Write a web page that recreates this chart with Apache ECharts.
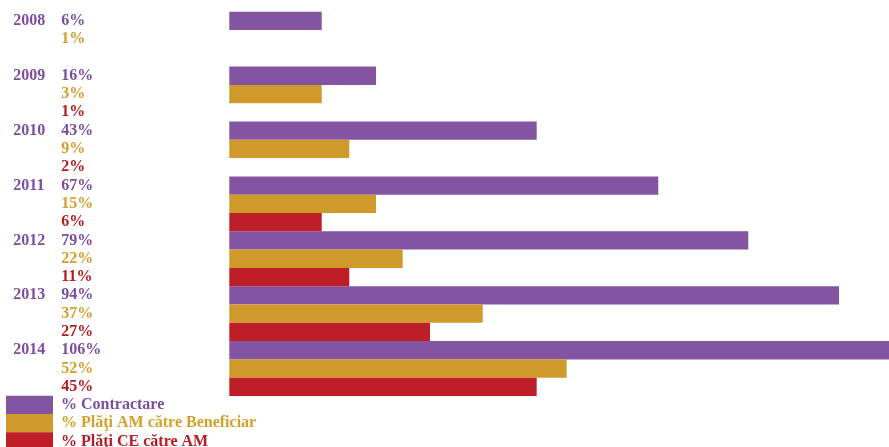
<!DOCTYPE html>
<html><head><meta charset="utf-8">
<script src="https://cdn.jsdelivr.net/npm/echarts@6/dist/echarts.min.js"></script>
<style>html,body{margin:0;padding:0;background:#fff}#c{width:889px;height:447px}</style>
</head><body><div id="c"></div>
<script>
// Data
const years = ['2008', '2009', '2010', '2011', '2012', '2013', '2014'];
const seriesNames = ['% Contractare', '% Plăţi AM către Beneficiar', '% Plăţi CE către AM'];
// Printed percentages (labels)
const contractarePct = [6, 16, 43, 67, 79, 94, 106];
const platiAMPct = [1, 3, 9, 15, 22, 37, 52];
const platiCEPct = [null, 1, 2, 6, 11, 27, 45];
// Bar lengths as drawn in the picture (axis units, longest bar = 106)
const contractareBar = [14.85, 23.57, 49.39, 68.93, 83.39, 97.97, 106];
const platiAMBar = [0, 14.85, 19.28, 23.57, 27.86, 40.72, 54.21];
const platiCEBar = [0, 0, 0, 14.85, 19.28, 32.25, 49.39];

const colors = ['#8254A2', '#D09A2B', '#BE1E25'];
const textColors = ['#7D4E9E', '#D3A02C', '#B51D24'];
const FONT = "'Liberation Serif','Times New Roman',serif";

const pcts = [contractarePct, platiAMPct, platiCEPct];
const bars = [contractareBar, platiAMBar, platiCEBar];

// 3 rows per year
const rows = [];
years.forEach((y, i) => { for (let s = 0; s < 3; s++) rows.push(i * 3 + s); });
const cats = rows.map(r => String(r));

function seriesData(s) {
  return rows.map(r => (r % 3 === s ? bars[s][Math.floor(r / 3)] : '-'));
}

const chart = echarts.init(document.getElementById('c'));
chart.setOption({
  animation: false,
  backgroundColor: '#fff',
  textStyle: { fontFamily: FONT },
  grid: { left: 229.3, right: 0, top: 11.7, height: 21 * 18.3, containLabel: false },
  xAxis: { type: 'value', min: 0, max: 106, show: false, splitLine: { show: false } },
  yAxis: {
    type: 'category', data: cats, inverse: true,
    axisLine: { show: false }, axisTick: { show: false },
    axisLabel: {
      interval: 0, align: 'left', margin: 216,
      fontFamily: FONT, fontWeight: 'bold', fontSize: 16,
      formatter: function (v) {
        const r = +v, yi = Math.floor(r / 3), s = r % 3;
        const p = pcts[s][yi];
        const ptxt = (p === null || p === undefined) ? '' : p + '%';
        if (s === 0) return '{yr|' + years[yi] + '}{p0|' + ptxt + '}';
        if (!ptxt) return '';
        return '{p' + s + 'i|' + ptxt + '}';
      },
      rich: {
        yr: { width: 48, color: textColors[0], fontFamily: FONT, fontWeight: 'bold', fontSize: 16 },
        p0: { color: textColors[0], fontFamily: FONT, fontWeight: 'bold', fontSize: 16 },
        p1i: { color: textColors[1], padding: [0, 0, 0, 48], fontFamily: FONT, fontWeight: 'bold', fontSize: 16 },
        p2i: { color: textColors[2], padding: [0, 0, 0, 48], fontFamily: FONT, fontWeight: 'bold', fontSize: 16 }
      }
    }
  },
  legend: {
    orient: 'vertical', left: 6, top: 395.7, itemGap: 0, height: 80, width: 400,
    itemWidth: 47, itemHeight: 18.3, icon: 'rect', padding: 0,
    data: seriesNames.map((n, i) => ({ name: n, textStyle: { color: textColors[i] } })),
    textStyle: { fontFamily: FONT, fontWeight: 'bold', fontSize: 16, padding: [0, 0, 0, 3], lineHeight: 18 }
  },
  series: seriesNames.map((n, s) => ({
    name: n, type: 'bar', stack: 'rows', barCategoryGap: 0, barWidth: '100%',
    itemStyle: { color: colors[s] },
    data: seriesData(s)
  }))
});
</script></body></html>
